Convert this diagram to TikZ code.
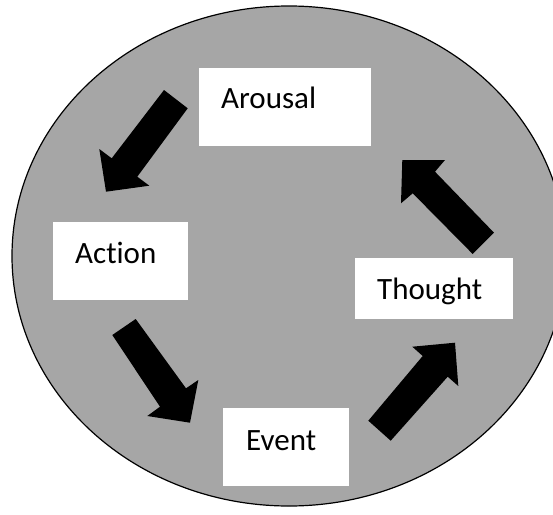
\documentclass[tikz,border=0pt]{standalone}
\usepackage{fontspec}
\setmainfont{Carlito}[Ligatures=NoCommon]
\usepackage{tikz}
\usetikzlibrary{positioning}
\definecolor{discgray}{RGB}{166,166,166}
\tikzset{box/.style={draw=none, fill=white, inner sep=0pt, anchor=north west}}
\tikzset{word/.style={anchor=base west, inner sep=0pt}}

\begin{document}
\begin{tikzpicture}[x=1pt, y=-1pt]
	% Default action for each node
	\tikzstyle{every node}=[font=\fontsize{31}{37}\selectfont];

	\useasboundingbox (0,0) rectangle (553,514);
	\clip (0,0) rectangle (553,514);
	\fill[white] (0,0) rectangle (553,514);

	% Disc
	\draw[fill=discgray, line width=1.2pt] (289,256) ellipse [x radius=277pt, y radius=250pt];

	% Boxes
	\node[box, minimum width=172pt, minimum height=78pt] (arousal) at (199,68) {};
	\node[box, minimum width=135pt, minimum height=78pt] (action) at (53,222) {};
	\node[box, minimum width=158pt, minimum height=61pt] (thought) at (355,258) {};
	\node[box, minimum width=126pt, minimum height=78pt] (event) at (223,408) {};

	% Words
	\node[word] (arousalword) at (221,108) {Arousal};
	\node[word] (actionword) at (75,263) {Action};
	\node[word] (thoughtword) at (377,299) {Thought};
	\node[word] (eventword) at (246,450) {Event};

	% Arrows
	\fill (164,90) -- (187.7,108.3) -- (137.3,176.7) -- (149.3,185.7) -- (106,191.7) -- (99.3,149) -- (111.7,158.3) -- cycle;
	\fill (135.7,319) -- (112.3,335) -- (160,406.7) -- (147.3,416) -- (190,422.7) -- (198.3,380) -- (186,388.3) -- cycle;
	\fill (368.3,420.7) -- (390.7,440.7) -- (447.7,376.7) -- (458.3,386) -- (455,342.7) -- (412.3,346.7) -- (422.7,356) -- cycle;
	\fill (494,232.7) -- (472.7,254) -- (412.7,193.3) -- (401,203.3) -- (402.3,160) -- (445,160) -- (435,171.7) -- cycle;
\end{tikzpicture}
\end{document}
